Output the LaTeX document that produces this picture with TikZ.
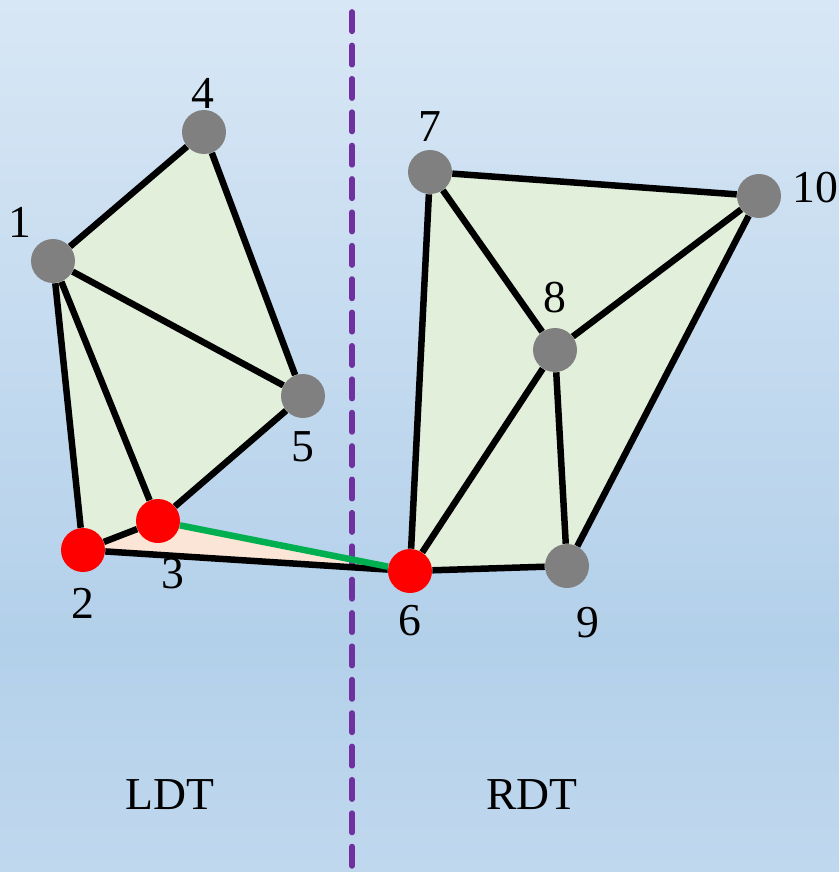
\documentclass[tikz,border=0pt]{standalone}
\usepackage{fontspec}
\setmainfont{Liberation Serif}
\definecolor{bgtop}{HTML}{D8E7F5}
\definecolor{bgmid}{HTML}{B3D0EA}
\definecolor{bgbot}{HTML}{C0D8EE}
\definecolor{facegreen}{HTML}{E2EFDA}
\definecolor{faceorange}{HTML}{FBE5D6}
\definecolor{cutpurple}{HTML}{7030A0}
\definecolor{edgegreen}{HTML}{00B050}

\begin{document}
\begin{tikzpicture}[x=0.02cm,y=-0.02cm,
    font=\fontsize{26}{30}\selectfont,
    pt/.style={circle,fill=black!50,minimum size=0.88cm,inner sep=0pt},
    hot/.style={pt,fill=red},
    edge/.style={line width=3.7pt,black},
    face/.style={fill=facegreen}]

  % background
  \shade[top color=bgtop,bottom color=bgmid] (0,0) rectangle (839,640);
  \shade[top color=bgmid,bottom color=bgbot] (0,640) rectangle (839,872);
  \useasboundingbox (0,0) rectangle (839,872);

  % points
  \coordinate (p1) at (53,261);
  \coordinate (p2) at (83,550);
  \coordinate (p3) at (158,521);
  \coordinate (p4) at (204,132);
  \coordinate (p5) at (303,396);
  \coordinate (p6) at (410,571);
  \coordinate (p7) at (430,172);
  \coordinate (p8) at (555,350);
  \coordinate (p9) at (567,566);
  \coordinate (p10) at (759,196);

  % faces
  \fill[face] (p1) -- (p4) -- (p5) -- (p3) -- (p2) -- cycle;
  \fill[fill=faceorange] (p2) -- (p3) -- (p6) -- cycle;
  \fill[face] (p7) -- (p10) -- (p9) -- (p6) -- cycle;

  % cut line
  \draw[cutpurple,line width=3.2pt,line cap=round,dash pattern=on 11pt off 8pt]
    (352,12) -- (352,872);

  % nodes
  \node[pt]  (v1) at (p1) {};
  \node[hot] (v2) at (p2) {};
  \node[hot] (v3) at (p3) {};
  \node[pt]  (v4) at (p4) {};
  \node[pt]  (v5) at (p5) {};
  \node[hot] (v6) at (p6) {};
  \node[pt]  (v7) at (p7) {};
  \node[pt]  (v8) at (p8) {};
  \node[pt]  (v9) at (p9) {};
  \node[pt]  (v10) at (p10) {};

  % edges
  \draw[edge] (v1) -- (v4);
  \draw[edge] (v4) -- (v5);
  \draw[edge] (v1) -- (v5);
  \draw[edge] (v1) -- (v3);
  \draw[edge] (v1) -- (v2);
  \draw[edge] (v2) -- (v3);
  \draw[edge] (v3) -- (v5);
  \draw[edge] (v2) -- (v6);
  \draw[edge,edgegreen] (v3) -- (v6);
  \draw[edge] (v7) -- (v10);
  \draw[edge] (v7) -- (v8);
  \draw[edge] (v7) -- (v6);
  \draw[edge] (v8) -- (v10);
  \draw[edge] (v8) -- (v6);
  \draw[edge] (v8) -- (v9);
  \draw[edge] (v10) -- (v9);
  \draw[edge] (v6) -- (v9);

  % labels
  \node (l1) at (20,222) {1};
  \node (l2) at (83,603) {2};
  \node (l3) at (173,574) {3};
  \node (l4) at (203,93) {4};
  \node (l5) at (303,447) {5};
  \node (l6) at (410,621) {6};
  \node (l7) at (430,127) {7};
  \node (l8) at (555,298) {8};
  \node (l9) at (588,623) {9};
  \node (l10) at (815,188) {10};

  \node (ldt) at (170,795) {LDT};
  \node (rdt) at (532,795) {RDT};
\end{tikzpicture}
\end{document}
